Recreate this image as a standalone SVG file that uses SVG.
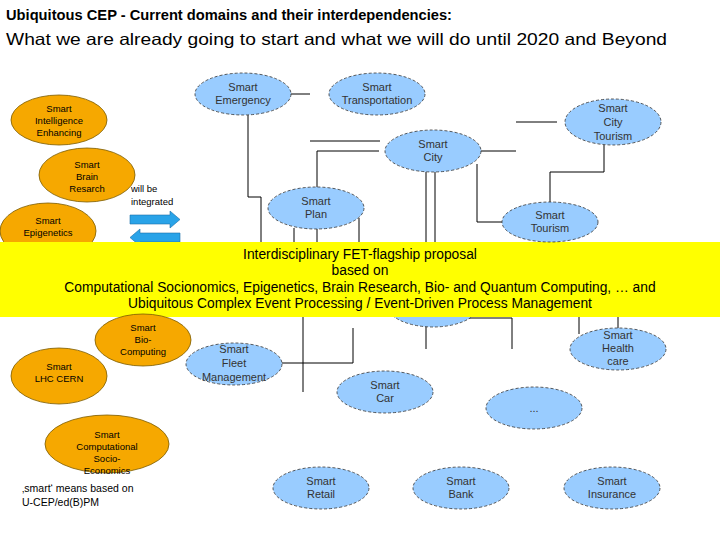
<svg xmlns="http://www.w3.org/2000/svg" width="720" height="540" viewBox="0 0 720 540">
<style>
text{font-family:"Liberation Sans",Arial,sans-serif;fill:#000}
.o{fill:#f6a800;stroke:#7a5a00;stroke-width:0.8}
.b{fill:#99ccff;stroke:#333;stroke-width:0.8;stroke-dasharray:3 2}
.ot{font-size:9.5px;text-anchor:middle}
.bt{font-size:11px;text-anchor:middle;fill:#333}
.c line,.c polyline{stroke:#000;stroke-width:1;fill:none}
</style>
<rect width="720" height="540" fill="#fff"/>
<text x="6" y="20" font-size="15" font-weight="bold" textLength="446" lengthAdjust="spacingAndGlyphs">Ubiquitous CEP -  Current domains and their interdependencies:</text>
<text x="6" y="45" font-size="16.5" textLength="661" lengthAdjust="spacingAndGlyphs">What we are already going to start and what we will do until 2020 and Beyond</text>
<g class="c" id="connectors">
<line x1="290" y1="94" x2="310" y2="94"/>
<polyline points="248,115 248,197 261,197 261,250"/>
<line x1="310" y1="141" x2="380" y2="141"/>
<polyline points="379,151 317,151 317,188"/>
<line x1="475" y1="151" x2="516" y2="151"/>
<line x1="516" y1="122" x2="557" y2="122"/>
<polyline points="477,164 477,222 502,222"/>
<polyline points="604,145 604,172 550,172 550,202"/>
<line x1="426" y1="172" x2="426" y2="250"/>
<line x1="435" y1="172" x2="435" y2="250"/>
<line x1="294" y1="228" x2="294" y2="250"/>
<line x1="317" y1="229" x2="317" y2="250"/>
<line x1="359" y1="218" x2="359" y2="250"/>
<line x1="303" y1="310" x2="303" y2="392"/>
<polyline points="353,328 353,363 282,363"/>
<line x1="426" y1="325" x2="426" y2="349"/>
<polyline points="467,318 512,318 512,349"/>
<line x1="579" y1="310" x2="579" y2="334"/>
<line x1="618" y1="310" x2="618" y2="328"/>
</g>
<g id="n-intel"><ellipse class="o" cx="59" cy="120" rx="48" ry="25"/><text class="ot" x="59" y="112">Smart</text><text class="ot" x="59" y="124">Intelligence</text><text class="ot" x="59" y="136">Enhancing</text></g>
<g id="n-brain"><ellipse class="o" cx="87" cy="175" rx="48" ry="27"/><text class="ot" x="87" y="168">Smart</text><text class="ot" x="87" y="180">Brain</text><text class="ot" x="87" y="192">Resarch</text></g>
<g id="n-epi"><ellipse class="o" cx="48" cy="231" rx="48" ry="28"/><text class="ot" x="48" y="224">Smart</text><text class="ot" x="48" y="236">Epigenetics</text></g>
<g id="arrows">
<text x="131" y="192" font-size="9.5">will be</text><text x="131" y="205" font-size="9.5">integrated</text>
<polygon points="130,215 170,215 170,211 180,219.5 170,228 170,224 130,224" fill="#29a3e8" stroke="#1b6fa8" stroke-width="0.6"/>
<polygon points="180,233 140,233 140,229 130,237.5 140,246 140,242 180,242" fill="#29a3e8" stroke="#1b6fa8" stroke-width="0.6"/>
</g>
<g id="n-cityx"><ellipse class="b" cx="433" cy="305" rx="46" ry="22"/></g>
<g id="band"><rect x="0" y="242" width="720" height="75" fill="#ffff00"/>
<g font-size="13.8" text-anchor="middle"><text x="360" y="259">Interdisciplinary FET-flagship proposal</text><text x="360" y="275">based on</text><text x="360" y="292">Computational Socionomics, Epigenetics, Brain Research, Bio- and Quantum Computing, … and</text><text x="360" y="308">Ubiquitous Complex Event Processing / Event-Driven Process Management</text></g></g>
<g id="n-bio"><ellipse class="o" cx="143" cy="340" rx="48" ry="26"/><text class="ot" x="143" y="331">Smart</text><text class="ot" x="143" y="343">Bio-</text><text class="ot" x="143" y="355">Computing</text></g>
<g id="n-lhc"><ellipse class="o" cx="59" cy="376" rx="48" ry="28"/><text class="ot" x="59" y="370">Smart</text><text class="ot" x="59" y="382">LHC CERN</text></g>
<g id="n-socio"><ellipse class="o" cx="107" cy="444" rx="62" ry="29"/><text class="ot" x="107" y="438">Smart</text><text class="ot" x="107" y="450">Computational</text><text class="ot" x="107" y="462">Socio-</text><text class="ot" x="107" y="474">Economics</text></g>
<text x="22" y="492" font-size="10.5">‚smart‘ means based on</text>
<text x="22" y="506" font-size="10.5">U-CEP/ed(B)PM</text>
<g id="n-emerg"><ellipse class="b" cx="243" cy="94" rx="48" ry="21"/><text class="bt" x="243" y="91">Smart</text><text class="bt" x="243" y="104">Emergency</text></g>
<g id="n-trans"><ellipse class="b" cx="377" cy="94" rx="48" ry="21"/><text class="bt" x="377" y="91">Smart</text><text class="bt" x="377" y="104">Transportation</text></g>
<g id="n-ctour"><ellipse class="b" cx="613" cy="122" rx="48" ry="23"/><text class="bt" x="613" y="112">Smart</text><text class="bt" x="613" y="126">City</text><text class="bt" x="613" y="140">Tourism</text></g>
<g id="n-city"><ellipse class="b" cx="433" cy="151" rx="48" ry="21"/><text class="bt" x="433" y="148">Smart</text><text class="bt" x="433" y="161">City</text></g>
<g id="n-plan"><ellipse class="b" cx="316" cy="208" rx="48" ry="21"/><text class="bt" x="316" y="205">Smart</text><text class="bt" x="316" y="218">Plan</text></g>
<g id="n-tour"><ellipse class="b" cx="550" cy="222" rx="48" ry="20"/><text class="bt" x="550" y="219">Smart</text><text class="bt" x="550" y="232">Tourism</text></g>
<g id="n-fleet"><ellipse class="b" cx="234" cy="364" rx="48" ry="21"/><text class="bt" x="234" y="353">Smart</text><text class="bt" x="234" y="367">Fleet</text><text class="bt" x="234" y="381">Management</text></g>
<g id="n-health"><ellipse class="b" cx="618" cy="349" rx="48" ry="21"/><text class="bt" x="618" y="339">Smart</text><text class="bt" x="618" y="352">Health</text><text class="bt" x="618" y="365">care</text></g>
<g id="n-car"><ellipse class="b" cx="385" cy="392" rx="48" ry="21"/><text class="bt" x="385" y="389">Smart</text><text class="bt" x="385" y="402">Car</text></g>
<g id="n-dots"><ellipse class="b" cx="534" cy="408" rx="48" ry="21"/><text class="bt" x="534" y="412">...</text></g>
<g id="n-retail"><ellipse class="b" cx="321" cy="488" rx="48" ry="21"/><text class="bt" x="321" y="485">Smart</text><text class="bt" x="321" y="498">Retail</text></g>
<g id="n-bank"><ellipse class="b" cx="461" cy="488" rx="48" ry="21"/><text class="bt" x="461" y="485">Smart</text><text class="bt" x="461" y="498">Bank</text></g>
<g id="n-ins"><ellipse class="b" cx="612" cy="488" rx="48" ry="21"/><text class="bt" x="612" y="485">Smart</text><text class="bt" x="612" y="498">Insurance</text></g>
</svg>
